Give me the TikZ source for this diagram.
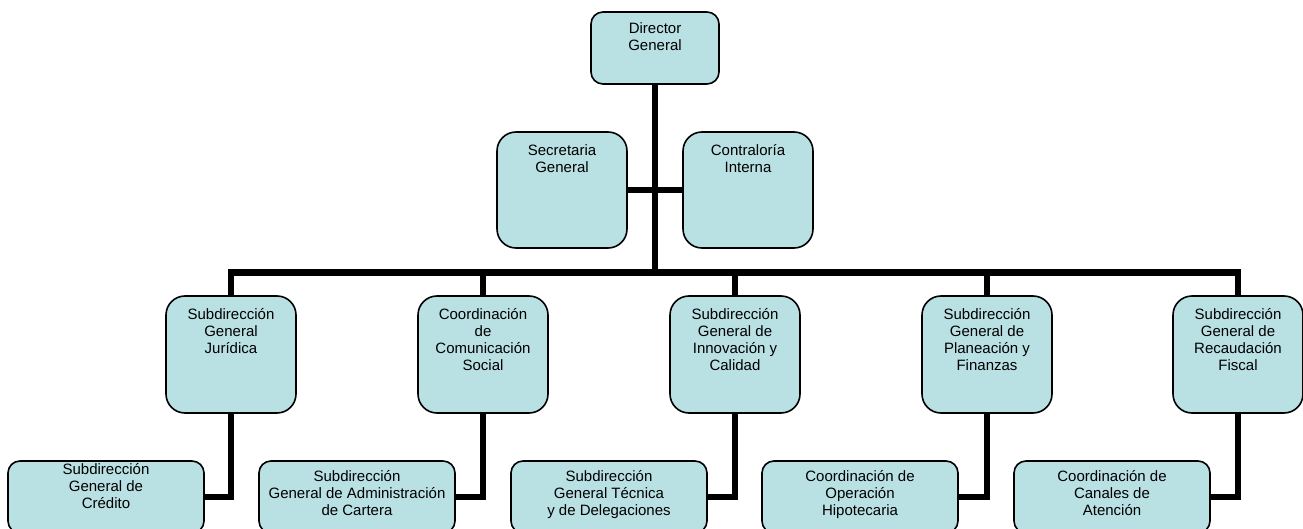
\documentclass[tikz,border=0pt]{standalone}
\usepackage{fontspec}
\setmainfont{Liberation Sans}
\definecolor{unitfill}{RGB}{185,224,227}
% text of a box: first baseline #1 below the top, box #2 high and #3 wide
\newcommand{\unittext}[4]{\parbox[t][#2][t]{#3}{\fontsize{15}{17}\selectfont\centering\rule{0pt}{#1}#4}}
\tikzset{
  unit/.style={draw=black, line width=1.6pt, fill=unitfill, rounded corners=12pt,
    inner sep=0pt, outer sep=0pt, anchor=north},
  tallunit/.style={unit, rounded corners=19pt},
  link/.style={line width=6.5pt, line cap=butt, line join=miter}
}
\begin{document}
\begin{tikzpicture}[x=1pt, y=-1pt]
  % Window of the chart
  \clip (0,0) rectangle (1303,529);

  % Top of the chart
  \node[unit] (dg) at (655,12) {\unittext{21.5pt}{72pt}{128pt}{Director\\General}};
  \node[tallunit] (sg) at (562,132) {\unittext{23.5pt}{116pt}{130pt}{Secretaria\\General}};
  \node[tallunit] (ci) at (748,132) {\unittext{23.5pt}{116pt}{130pt}{Contraloría\\Interna}};

  % Second level
  \node[tallunit] (sgj)  at (231,296)  {\unittext{23.5pt}{117pt}{130pt}{Subdirección\\General\\Jurídica}};
  \node[tallunit] (ccs)  at (483,296)  {\unittext{23.5pt}{117pt}{130pt}{Coordinación\\de\\Comunicación\\Social}};
  \node[tallunit] (sgic) at (735,296)  {\unittext{23.5pt}{117pt}{130pt}{Subdirección\\General de\\Innovación y\\Calidad}};
  \node[tallunit] (sgpf) at (987,296)  {\unittext{23.5pt}{117pt}{130pt}{Subdirección\\General de\\Planeación y\\Finanzas}};
  \node[tallunit] (sgrf) at (1238,296) {\unittext{23.5pt}{117pt}{130pt}{Subdirección\\General de\\Recaudación\\Fiscal}};

  % Third level
  \node[unit] (sgc)  at (106,461)  {\unittext{13.5pt}{72pt}{196pt}{Subdirección\\General de\\Crédito}};
  \node[unit] (sgac) at (357,461)  {\unittext{20.5pt}{72pt}{196pt}{Subdirección\\General de Administración\\de Cartera}};
  \node[unit] (sgtd) at (609,461)  {\unittext{20.5pt}{72pt}{196pt}{Subdirección\\General Técnica\\y de Delegaciones}};
  \node[unit] (cop)  at (860,461)  {\unittext{20.5pt}{72pt}{196pt}{Coordinación de\\Operación\\Hipotecaria}};
  \node[unit] (cca)  at (1112,461) {\unittext{20.5pt}{72pt}{196pt}{Coordinación de\\Canales de\\Atención}};

  % Trunk and bus
  \coordinate (bus) at (655,272.5);
  \draw[link] (dg.south) -- (bus);
  \draw[link] (sg.east) -- (ci.west);
  \foreach \u in {sgj,ccs,sgic,sgpf,sgrf}
    \draw[link] (bus) -| (\u.north);

  % Down to the third level
  \draw[link] (sgj.south)  |- (sgc.east);
  \draw[link] (ccs.south)  |- (sgac.east);
  \draw[link] (sgic.south) |- (sgtd.east);
  \draw[link] (sgpf.south) |- (cop.east);
  \draw[link] (sgrf.south) |- (cca.east);
\end{tikzpicture}
\end{document}
